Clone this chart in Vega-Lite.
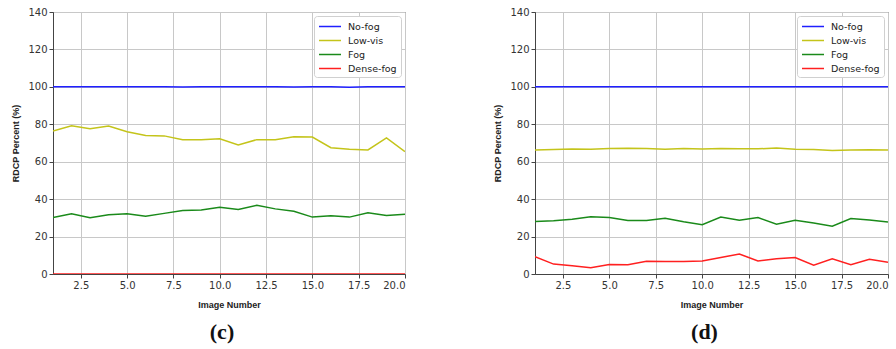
{
  "$schema": "https://vega.github.io/schema/vega-lite/v6.json",
  "padding": {"left": 11, "top": 6, "right": 5, "bottom": 5},
  "background": "white",
  "datasets": {
    "c": [
      {"img": 1, "cls": "No-fog", "v": 100}, {"img": 2, "cls": "No-fog", "v": 100}, {"img": 3, "cls": "No-fog", "v": 100}, {"img": 4, "cls": "No-fog", "v": 100}, {"img": 5, "cls": "No-fog", "v": 100},
      {"img": 6, "cls": "No-fog", "v": 100}, {"img": 7, "cls": "No-fog", "v": 100}, {"img": 8, "cls": "No-fog", "v": 99.9}, {"img": 9, "cls": "No-fog", "v": 100}, {"img": 10, "cls": "No-fog", "v": 100},
      {"img": 11, "cls": "No-fog", "v": 100}, {"img": 12, "cls": "No-fog", "v": 100}, {"img": 13, "cls": "No-fog", "v": 100}, {"img": 14, "cls": "No-fog", "v": 99.9}, {"img": 15, "cls": "No-fog", "v": 100},
      {"img": 16, "cls": "No-fog", "v": 100}, {"img": 17, "cls": "No-fog", "v": 99.8}, {"img": 18, "cls": "No-fog", "v": 100}, {"img": 19, "cls": "No-fog", "v": 100}, {"img": 20, "cls": "No-fog", "v": 100},
      {"img": 1, "cls": "Low-vis", "v": 76.4}, {"img": 2, "cls": "Low-vis", "v": 79.2}, {"img": 3, "cls": "Low-vis", "v": 77.6}, {"img": 4, "cls": "Low-vis", "v": 79.1}, {"img": 5, "cls": "Low-vis", "v": 76.0},
      {"img": 6, "cls": "Low-vis", "v": 74.0}, {"img": 7, "cls": "Low-vis", "v": 73.8}, {"img": 8, "cls": "Low-vis", "v": 71.7}, {"img": 9, "cls": "Low-vis", "v": 71.8}, {"img": 10, "cls": "Low-vis", "v": 72.3},
      {"img": 11, "cls": "Low-vis", "v": 69.0}, {"img": 12, "cls": "Low-vis", "v": 71.8}, {"img": 13, "cls": "Low-vis", "v": 71.8}, {"img": 14, "cls": "Low-vis", "v": 73.3}, {"img": 15, "cls": "Low-vis", "v": 73.2},
      {"img": 16, "cls": "Low-vis", "v": 67.5}, {"img": 17, "cls": "Low-vis", "v": 66.6}, {"img": 18, "cls": "Low-vis", "v": 66.3}, {"img": 19, "cls": "Low-vis", "v": 72.7}, {"img": 20, "cls": "Low-vis", "v": 65.4},
      {"img": 1, "cls": "Fog", "v": 30.2}, {"img": 2, "cls": "Fog", "v": 32.2}, {"img": 3, "cls": "Fog", "v": 30.1}, {"img": 4, "cls": "Fog", "v": 31.7}, {"img": 5, "cls": "Fog", "v": 32.2},
      {"img": 6, "cls": "Fog", "v": 30.8}, {"img": 7, "cls": "Fog", "v": 32.4}, {"img": 8, "cls": "Fog", "v": 33.9}, {"img": 9, "cls": "Fog", "v": 34.2}, {"img": 10, "cls": "Fog", "v": 35.6},
      {"img": 11, "cls": "Fog", "v": 34.5}, {"img": 12, "cls": "Fog", "v": 36.7}, {"img": 13, "cls": "Fog", "v": 34.8}, {"img": 14, "cls": "Fog", "v": 33.5}, {"img": 15, "cls": "Fog", "v": 30.4},
      {"img": 16, "cls": "Fog", "v": 31.1}, {"img": 17, "cls": "Fog", "v": 30.4}, {"img": 18, "cls": "Fog", "v": 32.7}, {"img": 19, "cls": "Fog", "v": 31.3}, {"img": 20, "cls": "Fog", "v": 31.9},
      {"img": 1, "cls": "Dense-fog", "v": 0}, {"img": 2, "cls": "Dense-fog", "v": 0}, {"img": 3, "cls": "Dense-fog", "v": 0}, {"img": 4, "cls": "Dense-fog", "v": 0}, {"img": 5, "cls": "Dense-fog", "v": 0},
      {"img": 6, "cls": "Dense-fog", "v": 0}, {"img": 7, "cls": "Dense-fog", "v": 0}, {"img": 8, "cls": "Dense-fog", "v": 0}, {"img": 9, "cls": "Dense-fog", "v": 0}, {"img": 10, "cls": "Dense-fog", "v": 0},
      {"img": 11, "cls": "Dense-fog", "v": 0}, {"img": 12, "cls": "Dense-fog", "v": 0}, {"img": 13, "cls": "Dense-fog", "v": 0}, {"img": 14, "cls": "Dense-fog", "v": 0}, {"img": 15, "cls": "Dense-fog", "v": 0},
      {"img": 16, "cls": "Dense-fog", "v": 0}, {"img": 17, "cls": "Dense-fog", "v": 0}, {"img": 18, "cls": "Dense-fog", "v": 0}, {"img": 19, "cls": "Dense-fog", "v": 0}, {"img": 20, "cls": "Dense-fog", "v": 0}
    ],
    "d": [
      {"img": 1, "cls": "No-fog", "v": 100}, {"img": 2, "cls": "No-fog", "v": 100}, {"img": 3, "cls": "No-fog", "v": 100}, {"img": 4, "cls": "No-fog", "v": 100}, {"img": 5, "cls": "No-fog", "v": 100},
      {"img": 6, "cls": "No-fog", "v": 100}, {"img": 7, "cls": "No-fog", "v": 100}, {"img": 8, "cls": "No-fog", "v": 100}, {"img": 9, "cls": "No-fog", "v": 100}, {"img": 10, "cls": "No-fog", "v": 100},
      {"img": 11, "cls": "No-fog", "v": 100}, {"img": 12, "cls": "No-fog", "v": 100}, {"img": 13, "cls": "No-fog", "v": 100}, {"img": 14, "cls": "No-fog", "v": 100}, {"img": 15, "cls": "No-fog", "v": 100},
      {"img": 16, "cls": "No-fog", "v": 100}, {"img": 17, "cls": "No-fog", "v": 100}, {"img": 18, "cls": "No-fog", "v": 100}, {"img": 19, "cls": "No-fog", "v": 100}, {"img": 20, "cls": "No-fog", "v": 100},
      {"img": 1, "cls": "Low-vis", "v": 66.3}, {"img": 2, "cls": "Low-vis", "v": 66.5}, {"img": 3, "cls": "Low-vis", "v": 66.8}, {"img": 4, "cls": "Low-vis", "v": 66.6}, {"img": 5, "cls": "Low-vis", "v": 67.0},
      {"img": 6, "cls": "Low-vis", "v": 67.2}, {"img": 7, "cls": "Low-vis", "v": 67.1}, {"img": 8, "cls": "Low-vis", "v": 66.7}, {"img": 9, "cls": "Low-vis", "v": 67.1}, {"img": 10, "cls": "Low-vis", "v": 66.8},
      {"img": 11, "cls": "Low-vis", "v": 67.0}, {"img": 12, "cls": "Low-vis", "v": 66.9}, {"img": 13, "cls": "Low-vis", "v": 66.9}, {"img": 14, "cls": "Low-vis", "v": 67.3}, {"img": 15, "cls": "Low-vis", "v": 66.7},
      {"img": 16, "cls": "Low-vis", "v": 66.5}, {"img": 17, "cls": "Low-vis", "v": 66.0}, {"img": 18, "cls": "Low-vis", "v": 66.2}, {"img": 19, "cls": "Low-vis", "v": 66.4}, {"img": 20, "cls": "Low-vis", "v": 66.3},
      {"img": 1, "cls": "Fog", "v": 28.1}, {"img": 2, "cls": "Fog", "v": 28.5}, {"img": 3, "cls": "Fog", "v": 29.2}, {"img": 4, "cls": "Fog", "v": 30.6}, {"img": 5, "cls": "Fog", "v": 30.2},
      {"img": 6, "cls": "Fog", "v": 28.6}, {"img": 7, "cls": "Fog", "v": 28.6}, {"img": 8, "cls": "Fog", "v": 29.8}, {"img": 9, "cls": "Fog", "v": 27.9}, {"img": 10, "cls": "Fog", "v": 26.3},
      {"img": 11, "cls": "Fog", "v": 30.4}, {"img": 12, "cls": "Fog", "v": 28.7}, {"img": 13, "cls": "Fog", "v": 30.2}, {"img": 14, "cls": "Fog", "v": 26.6}, {"img": 15, "cls": "Fog", "v": 28.7},
      {"img": 16, "cls": "Fog", "v": 27.2}, {"img": 17, "cls": "Fog", "v": 25.5}, {"img": 18, "cls": "Fog", "v": 29.6}, {"img": 19, "cls": "Fog", "v": 28.9}, {"img": 20, "cls": "Fog", "v": 27.8},
      {"img": 1, "cls": "Dense-fog", "v": 9.3}, {"img": 2, "cls": "Dense-fog", "v": 5.3}, {"img": 3, "cls": "Dense-fog", "v": 4.4}, {"img": 4, "cls": "Dense-fog", "v": 3.3}, {"img": 5, "cls": "Dense-fog", "v": 5.1},
      {"img": 6, "cls": "Dense-fog", "v": 4.9}, {"img": 7, "cls": "Dense-fog", "v": 6.8}, {"img": 8, "cls": "Dense-fog", "v": 6.7}, {"img": 9, "cls": "Dense-fog", "v": 6.7}, {"img": 10, "cls": "Dense-fog", "v": 7.0},
      {"img": 11, "cls": "Dense-fog", "v": 8.8}, {"img": 12, "cls": "Dense-fog", "v": 10.7}, {"img": 13, "cls": "Dense-fog", "v": 7.0}, {"img": 14, "cls": "Dense-fog", "v": 8.1}, {"img": 15, "cls": "Dense-fog", "v": 8.8},
      {"img": 16, "cls": "Dense-fog", "v": 4.7}, {"img": 17, "cls": "Dense-fog", "v": 8.1}, {"img": 18, "cls": "Dense-fog", "v": 4.9}, {"img": 19, "cls": "Dense-fog", "v": 7.9}, {"img": 20, "cls": "Dense-fog", "v": 6.3}
    ]
  },
  "config": {
    "view": {"stroke": "#444", "strokeWidth": 1},
    "concat": {"spacing": 87},
    "font": "DejaVu Sans",
    "axis": {
      "labelFont": "DejaVu Sans", "labelFontSize": 10, "labelColor": "#333",
      "titleFont": "Liberation Sans", "titleFontSize": 9, "titleFontWeight": "bold", "titleColor": "#222",
      "gridColor": "#c8c8c8", "gridWidth": 1, "domainColor": "#444", "tickColor": "#444", "tickSize": 4, "labelPadding": 2
    },
    "legend": {
      "labelFont": "DejaVu Sans", "labelFontSize": 9.5, "labelColor": "#222",
      "symbolType": "M-1,0H3", "symbolStrokeWidth": 1.5, "symbolSize": 121, "labelOffset": 17,
      "strokeColor": "#d0d0d0", "fillColor": "white", "padding": 4, "cornerRadius": 3,
      "rowPadding": 3
    },
    "title": {"font": "Liberation Serif", "fontSize": 22, "fontWeight": "bold", "color": "#111", "orient": "bottom", "anchor": "middle", "offset": 13, "dx": -7}
  },
  "resolve": {"scale": {"color": "independent"}, "legend": {"color": "independent"}},
  "hconcat": [
    {
      "title": "(c)",
      "width": 352, "height": 262,
      "data": {"name": "c"},
      "mark": {"type": "line", "strokeWidth": 1.5, "clip": true},
      "encoding": {
        "x": {"field": "img", "type": "quantitative", "scale": {"domain": [1, 20], "nice": false},
              "axis": {"values": [2.5, 5, 7.5, 10, 12.5, 15, 17.5, 20], "format": ".1f", "title": "Image Number", "titlePadding": 10}},
        "y": {"field": "v", "type": "quantitative", "scale": {"domain": [0, 140], "nice": false},
              "axis": {"values": [0, 20, 40, 60, 80, 100, 120, 140], "title": "RDCP Percent (%)", "titlePadding": 7}},
        "color": {"field": "cls", "type": "nominal",
                  "scale": {"domain": ["No-fog", "Low-vis", "Fog", "Dense-fog"], "range": ["#1f1fff", "#c4c41a", "#1a8a1a", "#ff2020"]},
                  "legend": {"title": null, "orient": "top-right", "offset": 4}}
      }
    },
    {
      "title": "(d)",
      "width": 353, "height": 262,
      "data": {"name": "d"},
      "mark": {"type": "line", "strokeWidth": 1.5, "clip": true},
      "encoding": {
        "x": {"field": "img", "type": "quantitative", "scale": {"domain": [1, 20], "nice": false},
              "axis": {"values": [2.5, 5, 7.5, 10, 12.5, 15, 17.5, 20], "format": ".1f", "title": "Image Number", "titlePadding": 10}},
        "y": {"field": "v", "type": "quantitative", "scale": {"domain": [0, 140], "nice": false},
              "axis": {"values": [0, 20, 40, 60, 80, 100, 120, 140], "title": "RDCP Percent (%)", "titlePadding": 7}},
        "color": {"field": "cls", "type": "nominal",
                  "scale": {"domain": ["No-fog", "Low-vis", "Fog", "Dense-fog"], "range": ["#1f1fff", "#c4c41a", "#1a8a1a", "#ff2020"]},
                  "legend": {"title": null, "orient": "top-right", "offset": 4}}
      }
    }
  ]
}
